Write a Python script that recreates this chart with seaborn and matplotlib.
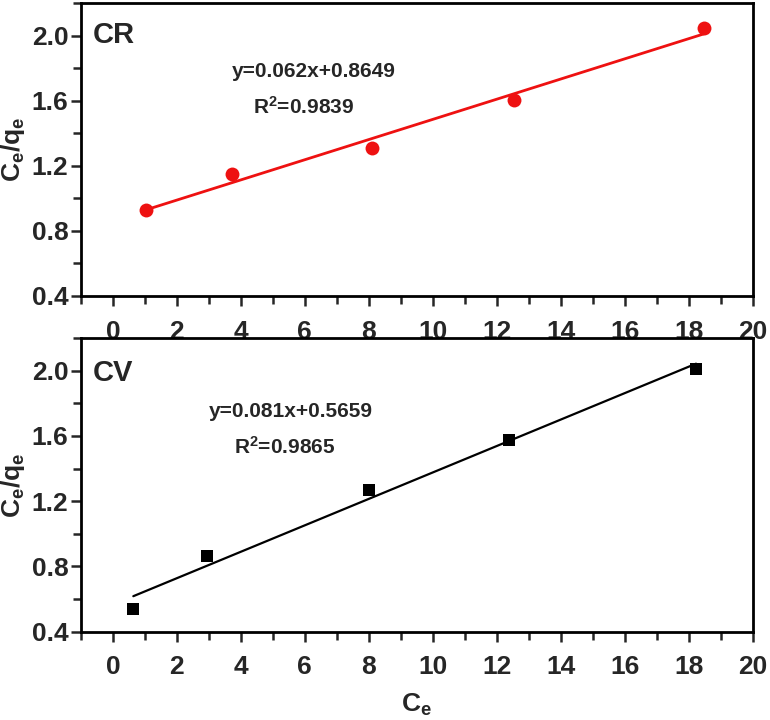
import numpy as np
import pandas as pd
import matplotlib
matplotlib.use("Agg")
import matplotlib.pyplot as plt
import seaborn as sns
from matplotlib.ticker import MultipleLocator

# ---- data ----
cr_ce = [1.04, 3.74, 8.1, 12.54, 18.48]
cr_ratio = [0.93, 1.147, 1.31, 1.603, 2.045]
cr_slope, cr_intercept = 0.062, 0.8649
cr_eq = "y=0.062x+0.8649"
cr_r2 = "0.9839"

cv_ce = [0.64, 2.95, 8.0, 12.38, 18.23]
cv_ratio = [0.537, 0.862, 1.27, 1.572, 2.01]
cv_slope, cv_intercept = 0.081, 0.5659
cv_eq = "y=0.081x+0.5659"
cv_r2 = "0.9865"

x_ticks = [0, 2, 4, 6, 8, 10, 12, 14, 16, 18, 20]
y_ticks = [0.4, 0.8, 1.2, 1.6, 2.0]

sns.set_theme(style="ticks")
plt.rcParams['font.family'] = ['Liberation Sans', 'DejaVu Sans']
plt.rcParams['font.weight'] = 'bold'
plt.rcParams['mathtext.fontset'] = 'custom'
plt.rcParams['mathtext.rm'] = 'Liberation Sans:bold'
plt.rcParams['mathtext.it'] = 'Liberation Sans:bold'
plt.rcParams['mathtext.bf'] = 'Liberation Sans:bold'
plt.rcParams['mathtext.default'] = 'rm'

fig = plt.figure(figsize=(7.7, 7.2), dpi=100)
ax1 = fig.add_axes([0.105, 0.589, 0.8725, 0.4068])
ax2 = fig.add_axes([0.105, 0.1226, 0.8725, 0.408])

panels = [
    (ax1, cr_ce, cr_ratio, cr_slope, cr_intercept, "CR", cr_eq, cr_r2, "#ee1111", "o", 10,
     (0.347, 0.765), (0.331, 0.645), 0.89),
    (ax2, cv_ce, cv_ratio, cv_slope, cv_intercept, "CV", cv_eq, cv_r2, "black", "s", 8.5,
     (0.313, 0.749), (0.304, 0.630), 0.88),
]

for ax, xs, ys, m, b, name, eq, r2, col, mk, ms, p_eq, p_r2, name_y in panels:
    df = pd.DataFrame({"Ce": xs, "ratio": ys})
    xf = np.array([min(xs), max(xs)])
    fit = pd.DataFrame({"Ce": xf, "ratio": m * xf + b})
    sns.lineplot(data=fit, x="Ce", y="ratio", ax=ax, color=col,
                 linewidth=2.0 if col != "black" else 1.6)
    sns.scatterplot(data=df, x="Ce", y="ratio", ax=ax, color=col, marker=mk,
                    s=ms ** 2, edgecolor=col, linewidth=0, zorder=3)
    ax.set_xlim(-1, 20)
    ax.set_ylim(0.4, 2.2)
    ax.set_xticks(x_ticks)
    ax.set_yticks(y_ticks)
    ax.set_yticklabels([f"{v:.1f}" for v in y_ticks])
    ax.xaxis.set_minor_locator(MultipleLocator(1))
    ax.yaxis.set_minor_locator(MultipleLocator(0.2))
    ax.tick_params(axis='both', which='both', direction='out', width=1.8,
                   labelsize=19, top=False, right=False)
    ax.tick_params(axis='both', which='major', length=7)
    ax.tick_params(axis='both', which='minor', length=6)
    ax.tick_params(axis='x', which='major', pad=10)
    ax.tick_params(axis='y', which='major', pad=2)
    for lab in ax.get_xticklabels() + ax.get_yticklabels():
        lab.set_fontweight('bold')
    for sp in ax.spines.values():
        sp.set_visible(True)
        sp.set_linewidth(2)
        sp.set_color('black')
    ax.set_ylabel(r"$\mathrm{C_e/q_e}$", fontsize=19, labelpad=3)
    ax.set_xlabel("")
    ax.text(0.018, name_y, name, transform=ax.transAxes, fontsize=21,
            fontweight='bold', ha='left', va='center')
    ax.text(p_eq[0], p_eq[1], eq, transform=ax.transAxes, fontsize=15,
            fontweight='bold', ha='center', va='center')
    ax.text(p_r2[0], p_r2[1], r"R$^2$=" + r2, transform=ax.transAxes, fontsize=15,
            fontweight='bold', ha='center', va='center')

ax2.set_xlabel(r"$\mathrm{C_e}$", fontsize=19, labelpad=9)

fig.savefig("out.png", dpi=100)
